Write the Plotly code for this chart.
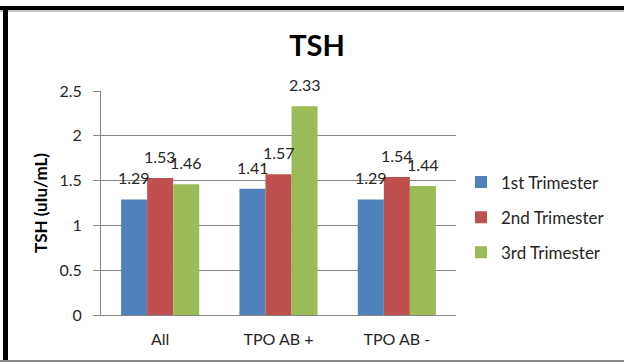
import plotly.graph_objects as go

categories = ["All", "TPO AB +", "TPO AB -"]
series_names = ["1st Trimester", "2nd Trimester", "3rd Trimester"]
first_tri = [1.29, 1.41, 1.29]
second_tri = [1.53, 1.57, 1.54]
third_tri = [1.46, 2.33, 1.44]
y_ticks = [0, 0.5, 1, 1.5, 2, 2.5]
y_tick_labels = ["0", "0.5", "1", "1.5", "2", "2.5"]

colors = ["#4F81BD", "#C0504D", "#9BBB59"]
font_family = "Lato, Open Sans, sans-serif"
text_color = "#262626"
axis_gray = "#868686"

# plot area in pixels
L, R, T, B = 101, 168, 91, 47
W, H = 624, 362
PW, PH = W - L - R, H - T - B

fig = go.Figure()
all_series = [first_tri, second_tri, third_tri]
for i, (name, vals) in enumerate(zip(series_names, all_series)):
    fig.add_trace(go.Bar(
        x=categories, y=vals, name=name,
        marker=dict(color=colors[i], line=dict(width=0)),
        legendgroup=name,
    ))

# value labels above each bar, offset by series position in the group
bar_px = 26
annotations = []
for i, vals in enumerate(all_series):
    for cat, v in zip(categories, vals):
        annotations.append(dict(
            x=cat, y=v, xref="x", yref="y", text=f"{v:.2f}",
            showarrow=False, xshift=(i - 1) * bar_px, yshift=10,
            yanchor="bottom", font=dict(size=16, color=text_color, family=font_family),
        ))


def px_x(p):
    return (p - L) / PW


def px_y(p):
    return (H - B - p) / PH


fig.update_layout(
    width=W, height=H,
    margin=dict(l=L, r=R, t=T, b=B),
    paper_bgcolor="white", plot_bgcolor="white",
    barmode="group", bargap=0.34, bargroupgap=0,
    title=dict(text="<b>TSH</b>", x=317 / W, xanchor="center",
               y=1 - 46 / H, yanchor="middle",
               font=dict(size=29, color="black", family=font_family)),
    xaxis=dict(showline=True, linecolor=axis_gray, linewidth=1,
               ticks="", ticklabelstandoff=10,
               tickfont=dict(size=16, color=text_color, family=font_family),
               showgrid=False),
    yaxis=dict(range=[0, 2.5], tickvals=y_ticks, ticktext=y_tick_labels,
               showline=True, linecolor=axis_gray, linewidth=1,
               showgrid=True, gridcolor=axis_gray, gridwidth=1,
               ticks="outside", ticklen=7, tickcolor=axis_gray,
               ticklabelstandoff=8,
               tickfont=dict(size=16, color=text_color, family=font_family),
               title=dict(text="<b>TSH (uIu/mL)</b>", standoff=7,
                          font=dict(size=17, color="black", family=font_family)),
               zeroline=False),
    legend=dict(x=px_x(461), y=px_y(217.5), xanchor="left", yanchor="middle",
                font=dict(size=17, color=text_color, family=font_family),
                tracegroupgap=10, itemwidth=30),
    annotations=annotations,
    shapes=[
        # chart frame: heavy black top and left edges, thin grey bottom edge
        dict(type="rect", xref="paper", yref="paper", x0=px_x(0), x1=px_x(W),
             y0=px_y(6), y1=px_y(10), fillcolor="black", line=dict(width=0)),
        dict(type="line", xref="paper", yref="paper", x0=px_x(0), x1=px_x(W),
             y0=px_y(11), y1=px_y(11), line=dict(color="#888", width=1)),
        dict(type="rect", xref="paper", yref="paper", x0=px_x(3), x1=px_x(8),
             y0=px_y(6), y1=px_y(H), fillcolor="black", line=dict(width=0)),
        dict(type="line", xref="paper", yref="paper", x0=px_x(0), x1=px_x(W),
             y0=px_y(361), y1=px_y(361), line=dict(color="#888", width=2)),
    ],
)

fig.write_html("out.html")
